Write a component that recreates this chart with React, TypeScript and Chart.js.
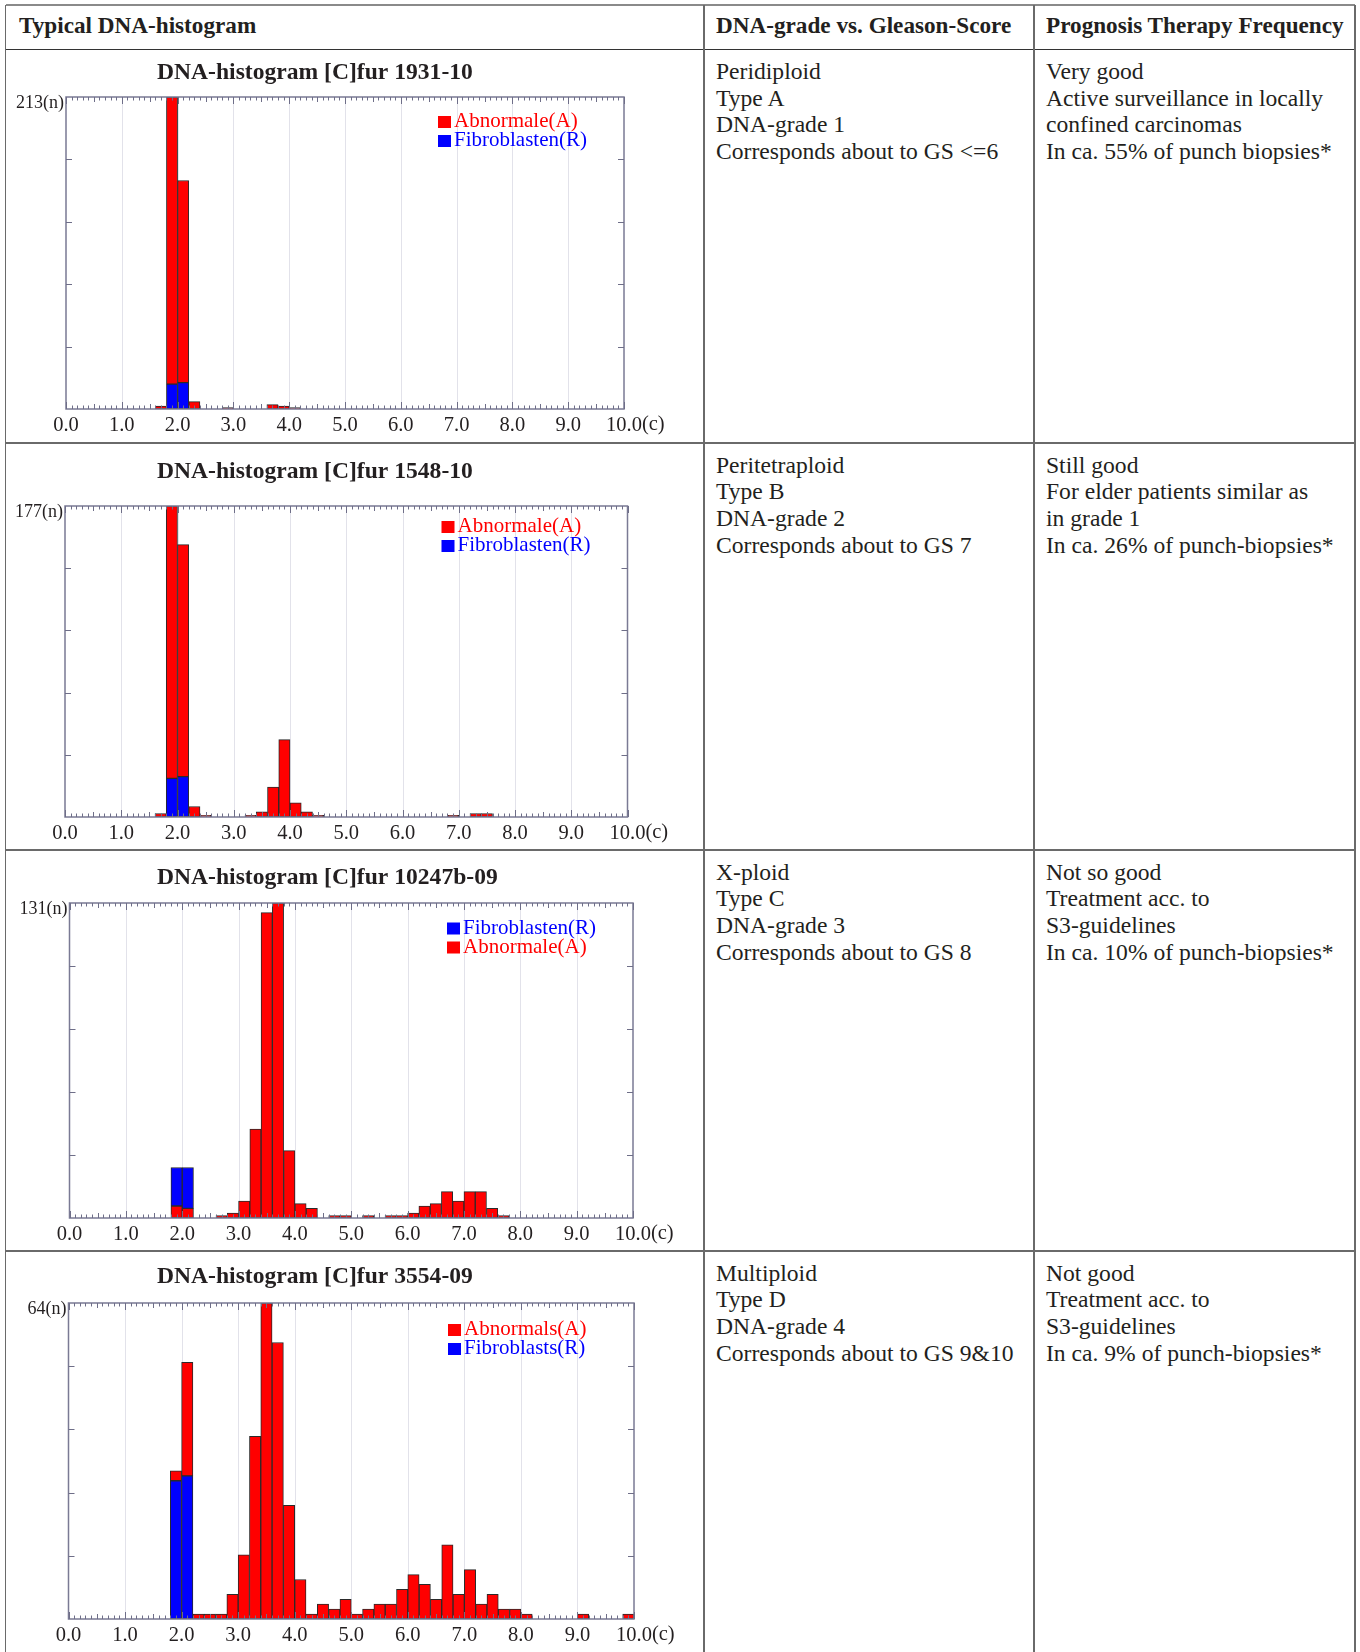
import React, { useEffect, useRef } from "react";
import { Chart, registerables } from "chart.js";

Chart.register(...registerables);

// ---------- DATA ----------
const binCenters = [
  0.1, 0.3, 0.5, 0.7, 0.9, 1.1, 1.3, 1.5, 1.7, 1.9,
  2.1, 2.3, 2.5, 2.7, 2.9, 3.1, 3.3, 3.5, 3.7, 3.9,
  4.1, 4.3, 4.5, 4.7, 4.9, 5.1, 5.3, 5.5, 5.7, 5.9,
  6.1, 6.3, 6.5, 6.7, 6.9, 7.1, 7.3, 7.5, 7.7, 7.9,
  8.1, 8.3, 8.5, 8.7, 8.9, 9.1, 9.3, 9.5, 9.7, 9.9,
];

const xTickValues = [0, 1, 2, 3, 4, 5, 6, 7, 8, 9, 10];
const xTickLabels = ["0.0", "1.0", "2.0", "3.0", "4.0", "5.0", "6.0", "7.0", "8.0", "9.0", "10.0"];

const h1Abnormal = [
  0, 0, 0, 0, 0, 0, 0, 0, 2, 196,
  138, 5, 0, 0, 1, 0, 0, 0, 3, 2,
  1, 0, 0, 0, 0, 0, 0, 0, 0, 0,
  0, 0, 0, 0, 0, 0, 0, 0, 0, 0,
  0, 0, 0, 0, 0, 0, 0, 0, 0, 0,
];
const h1Fibro = [
  0, 0, 0, 0, 0, 0, 0, 0, 0, 17,
  18, 0, 0, 0, 0, 0, 0, 0, 0, 0,
  0, 0, 0, 0, 0, 0, 0, 0, 0, 0,
  0, 0, 0, 0, 0, 0, 0, 0, 0, 0,
  0, 0, 0, 0, 0, 0, 0, 0, 0, 0,
];

const h2Abnormal = [
  0, 0, 0, 0, 0, 0, 0, 0, 2, 155,
  132, 6, 1, 0, 0, 0, 1, 3, 17, 44,
  8, 3, 1, 0, 0, 0, 0, 0, 0, 0,
  0, 0, 0, 0, 1, 0, 2, 2, 0, 0,
  0, 0, 0, 0, 0, 0, 0, 0, 0, 0,
];
const h2Fibro = [
  0, 0, 0, 0, 0, 0, 0, 0, 0, 22,
  23, 0, 0, 0, 0, 0, 0, 0, 0, 0,
  0, 0, 0, 0, 0, 0, 0, 0, 0, 0,
  0, 0, 0, 0, 0, 0, 0, 0, 0, 0,
  0, 0, 0, 0, 0, 0, 0, 0, 0, 0,
];

const h3Abnormal = [
  0, 0, 0, 0, 0, 0, 0, 0, 0, 5,
  4, 0, 0, 1, 2, 7, 37, 127, 131, 28,
  6, 4, 0, 1, 1, 0, 1, 0, 1, 1,
  2, 5, 6, 11, 7, 11, 11, 4, 1, 0,
  0, 0, 0, 0, 0, 0, 0, 0, 0, 0,
];
const h3Fibro = [
  0, 0, 0, 0, 0, 0, 0, 0, 0, 16,
  17, 0, 0, 0, 0, 0, 0, 0, 0, 0,
  0, 0, 0, 0, 0, 0, 0, 0, 0, 0,
  0, 0, 0, 0, 0, 0, 0, 0, 0, 0,
  0, 0, 0, 0, 0, 0, 0, 0, 0, 0,
];

const h4Abnormal = [
  0, 0, 0, 0, 0, 0, 0, 0, 0, 2,
  23, 1, 1, 1, 5, 13, 37, 64, 56, 23,
  8, 1, 3, 2, 4, 1, 2, 3, 3, 6,
  9, 7, 4, 15, 5, 10, 3, 5, 2, 2,
  1, 0, 0, 0, 0, 1, 0, 0, 0, 1,
];
const h4Fibro = [
  0, 0, 0, 0, 0, 0, 0, 0, 0, 28,
  29, 0, 0, 0, 0, 0, 0, 0, 0, 0,
  0, 0, 0, 0, 0, 0, 0, 0, 0, 0,
  0, 0, 0, 0, 0, 0, 0, 0, 0, 0,
  0, 0, 0, 0, 0, 0, 0, 0, 0, 0,
];

const yMaxValues = [213, 177, 131, 64];
const chartTitles = [
  "DNA-histogram [C]fur 1931-10",
  "DNA-histogram [C]fur 1548-10",
  "DNA-histogram [C]fur 10247b-09",
  "DNA-histogram [C]fur 3554-09",
];

const headerTexts = ["Typical DNA-histogram", "DNA-grade vs. Gleason-Score", "Prognosis Therapy Frequency"];
const gradeTexts = [
  ["Peridiploid", "Type A", "DNA-grade 1", "Corresponds about to GS <=6"],
  ["Peritetraploid", "Type B", "DNA-grade 2", "Corresponds about to GS 7"],
  ["X-ploid", "Type C", "DNA-grade 3", "Corresponds about to GS 8"],
  ["Multiploid", "Type D", "DNA-grade 4", "Corresponds about to GS 9&10"],
];
const prognosisTexts = [
  ["Very good", "Active surveillance in locally", "confined carcinomas", "In ca. 55% of punch biopsies*"],
  ["Still good", "For elder patients similar as", "in grade 1", "In ca. 26% of punch-biopsies*"],
  ["Not so good", "Treatment acc. to", "S3-guidelines", "In ca. 10% of punch-biopsies*"],
  ["Not good", "Treatment acc. to", "S3-guidelines", "In ca. 9% of punch-biopsies*"],
];

// ---------- LAYOUT ----------
const RED = "#ff0000";
const BLUE = "#0000ff";
const TEXT = "#231f20";
const SERIF = '"Liberation Serif", "Times New Roman", serif';

const tableLeft = 5.5;
const tableRight = 1355;
const tableTop = 5;
const colX = [704, 1034];
const headerBottom = 49.5;
const rowTops = [49.5, 443, 850, 1251];
const rowBottoms = [443, 850, 1251, 1660];

type PlotRect = { l: number; r: number; t: number; b: number };

const plots: PlotRect[] = [
  { l: 66, r: 624, t: 97, b: 409 },
  { l: 65, r: 627.5, t: 506, b: 817 },
  { l: 69.5, r: 633, t: 903, b: 1218 },
  { l: 68.5, r: 634, t: 1303, b: 1619 },
];
const titleYs = [72.7, 471.7, 877.7, 1277];
const legendDy = [24, 20, 24.5, 26];
const TITLE_X = 157;

type Series = { label: string; color: string; values: number[] };

type Spec = {
  idx: number;
  stack: Series[]; // bottom first
  legend: Series[]; // order top to bottom
};

const A1: Series = { label: "Abnormale(A)", color: RED, values: h1Abnormal };
const R1: Series = { label: "Fibroblasten(R)", color: BLUE, values: h1Fibro };
const A2: Series = { label: "Abnormale(A)", color: RED, values: h2Abnormal };
const R2: Series = { label: "Fibroblasten(R)", color: BLUE, values: h2Fibro };
const A3: Series = { label: "Abnormale(A)", color: RED, values: h3Abnormal };
const R3: Series = { label: "Fibroblasten(R)", color: BLUE, values: h3Fibro };
const A4: Series = { label: "Abnormals(A)", color: RED, values: h4Abnormal };
const R4: Series = { label: "Fibroblasts(R)", color: BLUE, values: h4Fibro };

const specs: Spec[] = [
  { idx: 0, stack: [R1, A1], legend: [A1, R1] },
  { idx: 1, stack: [R2, A2], legend: [A2, R2] },
  { idx: 2, stack: [A3, R3], legend: [R3, A3] },
  { idx: 3, stack: [R4, A4], legend: [A4, R4] },
];

function Histogram({ spec }: { spec: Spec }) {
  const ref = useRef<HTMLCanvasElement | null>(null);
  const i = spec.idx;
  const cLeft = 6;
  const cTop = Math.round(rowTops[i]) + 1;
  const cWidth = 697;
  const cHeight = Math.min(Math.round(rowBottoms[i]) - 1, 1652) - cTop;
  const p = plots[i];

  useEffect(() => {
    if (!ref.current) return;
    const yMax = yMaxValues[i];
    const decor = {
      id: "decor" + i,
      beforeDatasetsDraw(chart: any) {
        const { ctx, chartArea: a, scales } = chart;
        const x = scales.x;
        ctx.save();
        ctx.strokeStyle = "#e2e2ea";
        ctx.lineWidth = 1;
        for (const v of xTickValues) {
          if (v === 0 || v === 10) continue;
          const px = Math.round(x.getPixelForValue(v)) + 0.5;
          ctx.beginPath();
          ctx.moveTo(px, a.top);
          ctx.lineTo(px, a.bottom);
          ctx.stroke();
        }
        ctx.restore();
      },
      afterDatasetsDraw(chart: any) {
        const { ctx, chartArea: a, scales } = chart;
        const x = scales.x;
        const y = scales.y;
        ctx.save();
        // frame
        ctx.strokeStyle = "#7a7a94";
        ctx.lineWidth = 1.5;
        ctx.strokeRect(a.left, a.top, a.right - a.left, a.bottom - a.top);
        // x minor / major ticks (top and bottom, inward)
        ctx.lineWidth = 1;
        ctx.strokeStyle = "#6e6e88";
        for (let k = 0; k <= 100; k++) {
          const px = Math.round(x.getPixelForValue(k / 10)) + 0.5;
          const len = k % 10 === 0 ? 7 : k % 5 === 0 ? 5 : 3.5;
          ctx.beginPath();
          ctx.moveTo(px, a.bottom);
          ctx.lineTo(px, a.bottom - len);
          ctx.moveTo(px, a.top);
          ctx.lineTo(px, a.top + len);
          ctx.stroke();
        }
        // y ticks (left and right, inward)
        for (let j = 1; j < 5; j++) {
          const py = Math.round(y.getPixelForValue((yMax * j) / 5)) + 0.5;
          ctx.beginPath();
          ctx.moveTo(a.left, py);
          ctx.lineTo(a.left + 6, py);
          ctx.moveTo(a.right, py);
          ctx.lineTo(a.right - 6, py);
          ctx.stroke();
        }
        // x tick labels
        ctx.fillStyle = TEXT;
        ctx.font = `20.5px ${SERIF}`;
        ctx.textBaseline = "middle";
        xTickValues.forEach((v, k) => {
          const px = x.getPixelForValue(v);
          ctx.textAlign = "center";
          ctx.fillText(xTickLabels[k], px, a.bottom + 17);
          if (k === xTickValues.length - 1) {
            const w = ctx.measureText(xTickLabels[k]).width;
            ctx.textAlign = "left";
            ctx.fillText("(c)", px + w / 2, a.bottom + 16);
          }
        });
        // y max label
        ctx.font = `18px ${SERIF}`;
        ctx.textAlign = "right";
        ctx.fillText(`${yMax}(n)`, a.left - 2, a.top + 6);
        // title
        ctx.font = `bold 23.6px ${SERIF}`;
        ctx.textAlign = "left";
        ctx.fillText(chartTitles[i], TITLE_X - cLeft, titleYs[i] - cTop);
        // legend
        ctx.font = `21px ${SERIF}`;
        spec.legend.forEach((s, k) => {
          const cy = a.top + legendDy[i] + k * 19;
          const lx = a.right - 186;
          ctx.fillStyle = s.color;
          ctx.fillRect(lx, cy - 5, 13, 12);
          ctx.textAlign = "left";
          ctx.fillText(s.label, lx + 16, cy + 0.5);
        });
        ctx.restore();
      },
    };

    const chart = new Chart(ref.current, {
      type: "bar",
      data: {
        datasets: spec.stack.map((s) => ({
          label: s.label,
          data: binCenters.map((c, k) => ({ x: c, y: s.values[k] ? s.values[k] : null })),
          backgroundColor: s.color,
          borderColor: "#2a2a2a",
          borderWidth: 1,
          borderSkipped: false,
          categoryPercentage: 1,
          barPercentage: 1,
        })) as any,
      },
      options: {
        animation: false,
        responsive: false,
        devicePixelRatio: 1,
        events: [],
        layout: {
          padding: {
            left: p.l - cLeft,
            right: cLeft + cWidth - p.r,
            top: p.t - cTop,
            bottom: cTop + cHeight - p.b,
          },
        },
        plugins: { legend: { display: false }, tooltip: { enabled: false }, title: { display: false } },
        scales: {
          x: { type: "linear", min: 0, max: 10, offset: false, stacked: true, display: false, ticks: { stepSize: 1 } },
          y: { type: "linear", min: 0, max: yMax, stacked: true, display: false },
        },
      } as any,
      plugins: [decor],
    });
    return () => chart.destroy();
  }, []);

  return (
    <canvas
      ref={ref}
      width={cWidth}
      height={cHeight}
      style={{ position: "absolute", left: cLeft, top: cTop, width: cWidth, height: cHeight }}
    />
  );
}

function HLine({ y, x1, x2, color }: { y: number; x1: number; x2: number; color: string }) {
  return <div style={{ position: "absolute", left: x1, top: y - 0.75, width: x2 - x1, height: 1.5, background: color }} />;
}
function VLine({ x, y1, y2, color }: { x: number; y1: number; y2: number; color: string }) {
  return <div style={{ position: "absolute", left: x - 0.75, top: y1, width: 1.5, height: y2 - y1, background: color }} />;
}

export default function App() {
  useEffect(() => {
    document.body.style.margin = "0";
  }, []);
  const textCols = [716, 1046];
  return (
    <div
      style={{
        position: "relative",
        width: 1360,
        height: 1652,
        overflow: "hidden",
        background: "#ffffff",
        fontFamily: SERIF,
        color: TEXT,
      }}
    >
      {/* table lines */}
      <HLine y={tableTop} x1={tableLeft} x2={tableRight} color="#8a8a8a" />
      <HLine y={headerBottom} x1={tableLeft} x2={tableRight} color="#333333" />
      {rowBottoms.slice(0, 3).map((y, k) => (
        <HLine key={k} y={y} x1={tableLeft} x2={tableRight} color="#6a6a6a" />
      ))}
      <VLine x={tableLeft} y1={tableTop} y2={1652} color="#6a6a6a" />
      <VLine x={colX[0]} y1={tableTop} y2={1652} color="#6a6a6a" />
      <VLine x={colX[1]} y1={tableTop} y2={1652} color="#6a6a6a" />
      <VLine x={tableRight} y1={tableTop} y2={1652} color="#6a6a6a" />

      {/* header */}
      {headerTexts.map((t, k) => (
        <div
          key={k}
          style={{
            position: "absolute",
            left: k === 0 ? 19 : textCols[k - 1],
            top: 3,
            height: 44.5,
            lineHeight: "44.5px",
            fontSize: 23.2,
            fontWeight: "bold",
            whiteSpace: "nowrap",
          }}
        >
          {t}
        </div>
      ))}

      {/* text columns */}
      {gradeTexts.map((lines, r) => (
        <div
          key={"g" + r}
          style={{
            position: "absolute",
            left: textCols[0],
            top: rowTops[r] + 8.5,
            fontSize: 23.6,
            lineHeight: "26.7px",
            whiteSpace: "nowrap",
          }}
        >
          {lines.map((l, k) => (
            <div key={k}>{l}</div>
          ))}
        </div>
      ))}
      {prognosisTexts.map((lines, r) => (
        <div
          key={"p" + r}
          style={{
            position: "absolute",
            left: textCols[1],
            top: rowTops[r] + 8.5,
            fontSize: 23.6,
            lineHeight: "26.7px",
            whiteSpace: "nowrap",
          }}
        >
          {lines.map((l, k) => (
            <div key={k}>{l}</div>
          ))}
        </div>
      ))}

      {/* histograms */}
      {specs.map((s) => (
        <Histogram key={s.idx} spec={s} />
      ))}
    </div>
  );
}
